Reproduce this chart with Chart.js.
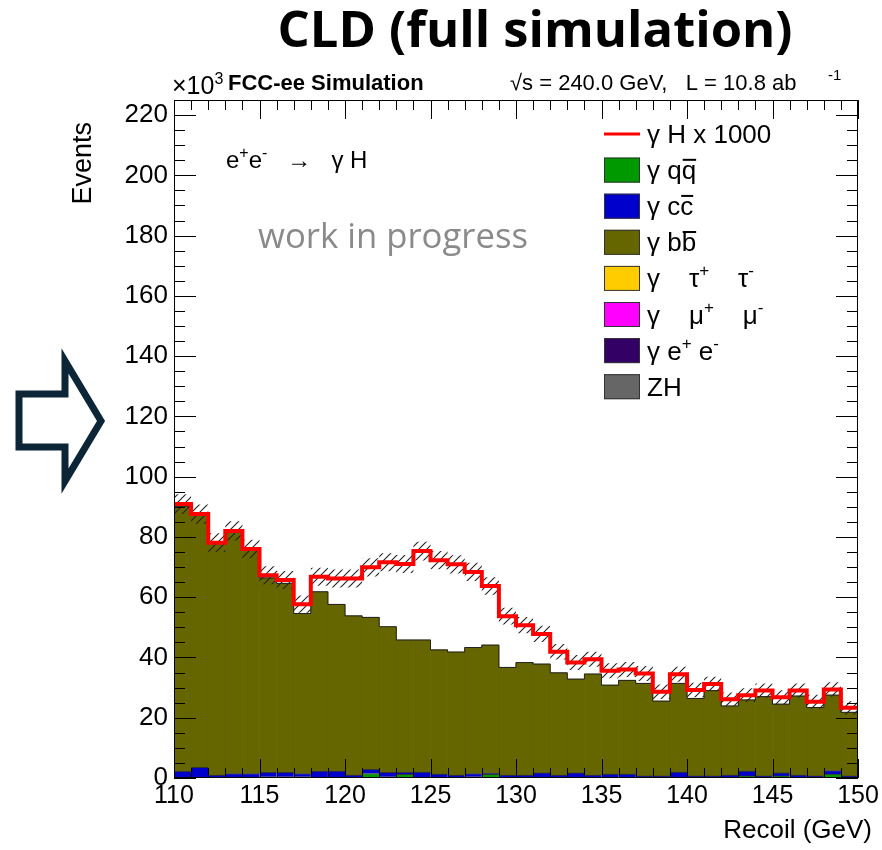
<!DOCTYPE html>
<html>
<head>
<meta charset="utf-8">
<title>CLD recoil mass</title>
<script src="https://cdn.jsdelivr.net/npm/chart.js@4.4.1/dist/chart.umd.min.js"></script>
<style>
    html, body { margin: 0; padding: 0; background: #fff; }
    #wrap { width: 882px; height: 850px; }
</style>
</head>
<body>
<div id="wrap"><canvas id="recoilChart" width="882" height="850"></canvas></div>
<script>
// ---------- data (1 GeV bins) ----------
const binEdges = [110, 111, 112, 113, 114, 115, 116, 117, 118, 119, 120,
                  121, 122, 123, 124, 125, 126, 127, 128, 129, 130,
                  131, 132, 133, 134, 135, 136, 137, 138, 139, 140,
                  141, 142, 143, 144, 145, 146, 147, 148, 149, 150];

// γ qq̄ (green)
const qqbar = [0, 0, 0, 0, 0, 0.4, 0.4, 0.4, 0, 0,
               0, 1.5, 0.4, 1.2, 0, 0, 0, 0.4, 1.2, 0,
               0, 0, 0, 0, 0, 0, 0, 0, 0, 0,
               0, 0, 0, 0.7, 0, 0.7, 0, 0, 1.3, 0];
// γ cc̄ (blue)
const ccbar = [2.2, 3.5, 1.0, 1.5, 1.5, 1.5, 1.5, 1.1, 2.3, 2.3,
               1.0, 1.4, 1.5, 0.7, 2.0, 1.3, 1.0, 1.1, 0.3, 1.0,
               1.0, 1.7, 1.0, 1.7, 1.0, 1.3, 1.3, 0.7, 0.7, 2.0,
               0.7, 0.7, 1.0, 1.6, 0.7, 1.0, 1.0, 0.7, 1.2, 0.7];
// γ bb̄ (olive)
const bbbar = [88.0, 83.9, 76.8, 80.2, 74.3, 64.5, 62.7, 53.1, 59.5, 55.3,
               52.8, 50.4, 48.3, 43.9, 43.8, 41.2, 40.8, 41.8, 42.6, 35.7,
               37.3, 36.1, 33.9, 31.1, 33.5, 29.5, 31.1, 30.7, 24.8, 29.4,
               25.7, 28.3, 22.9, 23.6, 26.3, 22.8, 26.2, 22.7, 25.0, 21.1];
// γ H x 1000, stacked on top of the background
const gammaH = [0.7, 0.2, 0.3, 0.3, 0.2, 0.9, 1.1, 3.1, 5.0, 8.6,
                12.4, 16.6, 21.4, 25.2, 29.5, 29.8, 29.1, 25.1, 19.6, 17.0,
                12.4, 10.0, 7.0, 5.5, 4.9, 4.8, 3.6, 3.3, 3.1, 3.0,
                2.8, 2.2, 2.2, 1.6, 2.0, 2.3, 1.8, 1.9, 1.9, 1.5];
// half width of the hatched uncertainty band
const errBand = [3.3, 3.2, 3.1, 3.2, 3.1, 3.0, 3.0, 2.9, 3.0, 3.0,
                 3.0, 3.0, 3.0, 3.0, 3.1, 3.0, 3.0, 3.0, 2.9, 2.8,
                 2.7, 2.7, 2.6, 2.5, 2.5, 2.5, 2.5, 2.5, 2.4, 2.5,
                 2.4, 2.4, 2.3, 2.3, 2.4, 2.3, 2.4, 2.3, 2.4, 2.2];

const xTicks = [110, 115, 120, 125, 130, 135, 140, 145, 150];
const yTicks = [0, 20, 40, 60, 80, 100, 120, 140, 160, 180, 200, 220];

// ---------- helpers ----------
const ROOT_FONT = '"Liberation Sans", Arial, Helvetica, sans-serif';
const centers = binEdges.slice(0, -1).map((e, i) => (e + binEdges[i + 1]) / 2);
const bkgTotal = bbbar.map((v, i) => v + ccbar[i] + qqbar[i]);
const sigTotal = bkgTotal.map((v, i) => v + gammaH[i]);

function stepPoints(vals) {
    return binEdges.map((e, i) => ({ x: e, y: vals[Math.min(i, vals.length - 1)] }));
}
function barPoints(vals) {
    return centers.map((c, i) => ({ x: c, y: vals[i] }));
}

const canvas = document.getElementById('recoilChart');
const ctx = canvas.getContext('2d');

function makeHatch() {
    const p = document.createElement('canvas');
    p.width = 8; p.height = 8;
    const g = p.getContext('2d');
    g.strokeStyle = '#222';
    g.lineWidth = 1.1;
    g.beginPath();
    g.moveTo(0, 8); g.lineTo(8, 0);
    g.moveTo(-1, 1); g.lineTo(1, -1);
    g.moveTo(7, 9); g.lineTo(9, 7);
    g.stroke();
    return ctx.createPattern(p, 'repeat');
}

// draws text pieces: {t, sup, bar}
function drawRich(c, x, y, segs, size) {
    let cx = x;
    segs.forEach(s => {
        const fs = s.sup ? Math.round(size * 0.65) : size;
        c.font = fs + 'px ' + ROOT_FONT;
        const dy = s.sup ? -size * 0.42 : 0;
        c.fillText(s.t, cx, y + dy);
        const w = c.measureText(s.t).width;
        if (s.bar) {
            c.fillRect(cx + 1, y - size * 0.78, w - 1, 2);
        }
        cx += w;
    });
}

// ---------- ROOT style decorations ----------
const rootDecor = {
    id: 'rootDecor',
    afterDraw(chart) {
        const c = chart.ctx;
        const { left, right, top, bottom } = chart.chartArea;
        const xs = chart.scales.x, ys = chart.scales.y;
        c.save();

        // frame
        c.strokeStyle = '#000';
        c.lineWidth = 1;
        c.strokeRect(left + 0.5, top + 0.5, right - left - 1, bottom - top - 1);

        // ticks inside the frame
        c.beginPath();
        for (let v = 110; v <= 150; v += 1) {
            const px = Math.round(xs.getPixelForValue(v)) + 0.5;
            const len = v % 5 === 0 ? 19 : 10;
            c.moveTo(px, bottom); c.lineTo(px, bottom - len);
            c.moveTo(px, top); c.lineTo(px, top + len);
        }
        for (let v = 0; v < 225; v += 5) {
            const py = Math.round(ys.getPixelForValue(v)) + 0.5;
            const len = v % 20 === 0 ? 22 : 11;
            c.moveTo(left, py); c.lineTo(left + len, py);
            c.moveTo(right, py); c.lineTo(right - len, py);
        }
        c.stroke();

        c.fillStyle = '#000';
        c.textBaseline = 'alphabetic';

        // big title
        c.textAlign = 'center';
        let tsize = 40;
        c.font = 'bold ' + tsize + 'px "Open Sans", "Noto Sans", sans-serif';
        tsize = tsize * 515 / c.measureText('CLD (full simulation)').width;
        c.font = 'bold ' + tsize.toFixed(1) + 'px "Open Sans", "Noto Sans", sans-serif';
        c.fillText('CLD (full simulation)', 535, 47);

        // header line
        c.textAlign = 'left';
        drawRich(c, 172, 94, [{ t: '×10' }, { t: '3', sup: true }], 25);
        c.font = 'bold 22px ' + ROOT_FONT;
        c.fillText('FCC-ee Simulation', 228, 90);
        c.font = '22px ' + ROOT_FONT;
        c.fillText('√s = 240.0 GeV,   L = 10.8 ab', 510, 90);
        c.font = '15px ' + ROOT_FONT;
        c.fillText('-1', 828, 80);

        // axis titles
        c.font = '26px ' + ROOT_FONT;
        c.textAlign = 'right';
        c.fillText('Recoil (GeV)', 872, 838);
        c.save();
        c.translate(91, 122);
        c.rotate(-Math.PI / 2);
        c.font = '27px ' + ROOT_FONT;
        c.fillText('Events', 0, 0);
        c.restore();

        // process label
        c.textAlign = 'left';
        drawRich(c, 226, 168, [
            { t: 'e' }, { t: '+', sup: true }, { t: 'e' }, { t: '-', sup: true },
            { t: '   →   γ H' }
        ], 24);

        // work in progress
        c.fillStyle = '#8a8a8a';
        let wsize = 30;
        c.font = wsize + 'px "Open Sans", "Noto Sans", sans-serif';
        wsize = wsize * 270 / c.measureText('work in progress').width;
        c.font = wsize.toFixed(1) + 'px "Open Sans", "Noto Sans", sans-serif';
        c.fillText('work in progress', 258, 248);

        // legend
        const legendRows = [
            { kind: 'line', color: '#ff0000', segs: [{ t: 'γ H x 1000' }] },
            { kind: 'box', color: '#009900', segs: [{ t: 'γ q' }, { t: 'q', bar: true }] },
            { kind: 'box', color: '#0000cc', segs: [{ t: 'γ c' }, { t: 'c', bar: true }] },
            { kind: 'box', color: '#666600', segs: [{ t: 'γ b' }, { t: 'b', bar: true }] },
            { kind: 'box', color: '#ffcc00', segs: [{ t: 'γ    τ' }, { t: '+', sup: true }, { t: '    τ' }, { t: '-', sup: true }] },
            { kind: 'box', color: '#ff00ff', segs: [{ t: 'γ    μ' }, { t: '+', sup: true }, { t: '    μ' }, { t: '-', sup: true }] },
            { kind: 'box', color: '#330066', segs: [{ t: 'γ e' }, { t: '+', sup: true }, { t: ' e' }, { t: '-', sup: true }] },
            { kind: 'box', color: '#666666', segs: [{ t: 'ZH' }] }
        ];
        legendRows.forEach((row, i) => {
            const cy = 134 + i * 36.1;
            if (row.kind === 'line') {
                c.fillStyle = row.color;
                c.fillRect(604, cy - 1.5, 36, 3);
            } else {
                c.fillStyle = row.color;
                c.fillRect(604, cy - 12.5, 36, 25);
                c.strokeStyle = '#333';
                c.lineWidth = 1;
                c.strokeRect(604.5, cy - 12, 35, 24);
            }
            c.fillStyle = '#000';
            drawRich(c, 647, cy + 9, row.segs, 26);
        });

        // arrow pointing at the plot
        c.strokeStyle = '#0d2637';
        c.lineWidth = 7;
        c.lineJoin = 'miter';
        c.beginPath();
        c.moveTo(19, 394);
        c.lineTo(65, 394);
        c.lineTo(65, 361);
        c.lineTo(101, 421);
        c.lineTo(65, 481);
        c.lineTo(65, 447);
        c.lineTo(19, 447);
        c.closePath();
        c.stroke();

        c.restore();
    }
};

// ---------- chart ----------
const hatch = makeHatch();

new Chart(ctx, {
    type: 'bar',
    data: {
        datasets: [
            {
                type: 'line', label: 'γ H x 1000', data: stepPoints(sigTotal),
                stepped: true, borderColor: '#ff0000', borderWidth: 4,
                pointRadius: 0, fill: false, stack: 'sig', order: 0
            },
            {
                type: 'line', label: 'background outline', data: stepPoints(bkgTotal),
                stepped: true, borderColor: '#222', borderWidth: 1,
                pointRadius: 0, fill: false, stack: 'outline', order: 1
            },
            {
                type: 'line', label: 'unc up', data: stepPoints(sigTotal.map((v, i) => v + errBand[i])),
                stepped: true, borderColor: 'rgba(0,0,0,0)', borderWidth: 0,
                pointRadius: 0, fill: '+1', backgroundColor: hatch, stack: 'eu', order: 2
            },
            {
                type: 'line', label: 'unc down', data: stepPoints(sigTotal.map((v, i) => v - errBand[i])),
                stepped: true, borderColor: 'rgba(0,0,0,0)', borderWidth: 0,
                pointRadius: 0, fill: false, stack: 'el', order: 3
            },
            {
                label: 'γ qq', data: barPoints(qqbar), backgroundColor: '#009900',
                borderColor: '#333', borderWidth: { top: 1, left: 0, right: 0, bottom: 0 },
                stack: 'bkg', order: 4, barPercentage: 1, categoryPercentage: 1
            },
            {
                label: 'γ cc', data: barPoints(ccbar), backgroundColor: '#0000cc',
                borderColor: '#333', borderWidth: { top: 1, left: 0, right: 0, bottom: 0 },
                stack: 'bkg', order: 5, barPercentage: 1, categoryPercentage: 1
            },
            {
                label: 'γ bb', data: barPoints(bbbar), backgroundColor: '#666600',
                borderWidth: 0, stack: 'bkg', order: 6, barPercentage: 1, categoryPercentage: 1
            }
        ]
    },
    options: {
        responsive: false,
        animation: false,
        events: [],
        layout: { padding: { top: 100, right: 24, left: 0, bottom: 0 } },
        plugins: {
            legend: { display: false },
            tooltip: { enabled: false },
            title: { display: false }
        },
        scales: {
            x: {
                type: 'linear', min: 110, max: 150, offset: false,
                grid: { display: false, drawTicks: false, offset: false },
                border: { display: false },
                afterBuildTicks: s => { s.ticks = xTicks.map(v => ({ value: v })); },
                afterFit: s => { s.height = 72; },
                ticks: {
                    color: '#000', padding: 3, maxRotation: 0, autoSkip: false,
                    font: { family: ROOT_FONT, size: 25 }
                }
            },
            y: {
                min: 0, max: 225, stacked: true,
                grid: { display: false, drawTicks: false },
                border: { display: false },
                afterBuildTicks: s => { s.ticks = yTicks.map(v => ({ value: v })); },
                afterFit: s => { s.width = 174; },
                ticks: {
                    color: '#000', padding: 6, autoSkip: false,
                    font: { family: ROOT_FONT, size: 26 }
                }
            }
        }
    },
    plugins: [rootDecor]
});
</script>
</body>
</html>
